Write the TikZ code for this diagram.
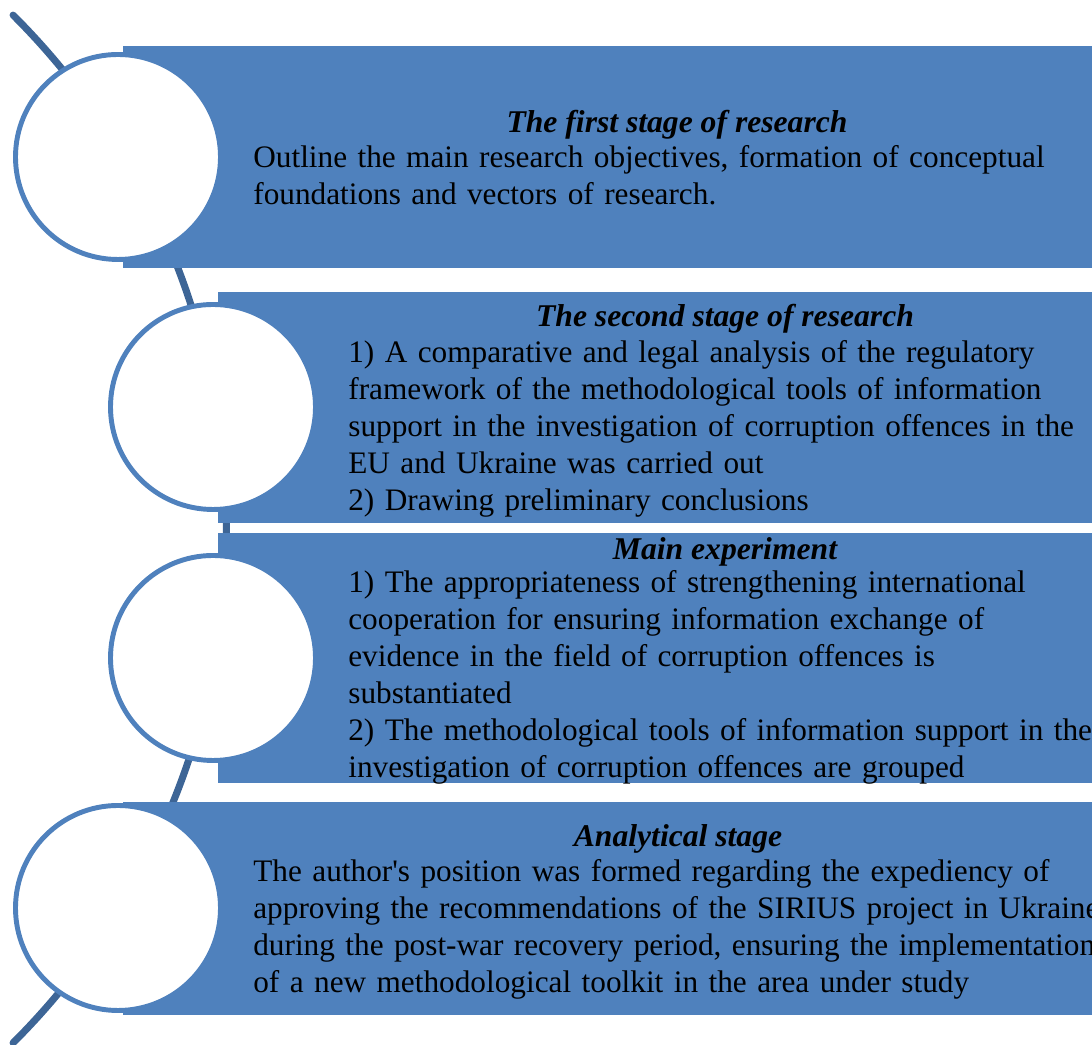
\documentclass[tikz,border=0pt]{standalone}
\usepackage{fontspec}
\setmainfont{Liberation Serif}
\usetikzlibrary{positioning}
\definecolor{barblue}{RGB}{79,129,189}
\definecolor{arcblue}{RGB}{61,101,150}
\tikzset{
  stagebar/.style={fill=barblue},
  stagedot/.style={circle, draw=barblue, line width=2.8pt, fill=white, minimum size=4.1cm, inner sep=0pt},
  stagehead/.style={font=\fontsize{18}{21}\selectfont\bfseries\itshape, inner sep=0pt, anchor=base},
  stagebody/.style={font=\fontsize{17.8}{21.05}\selectfont, inner sep=0pt, anchor=base west, align=left, text width=18.5cm},
}
\begin{document}
\begin{tikzpicture}
\useasboundingbox (0,0) rectangle (21.84,20.9);
\draw[arcblue, line width=4pt, line cap=round] (-9.98,10.32) ++(45.1:14.51) arc[start angle=45.1, end angle=-45.1, radius=14.51];
\fill[stagebar] (2.46,15.54) rectangle (21.84,19.98);
\fill[stagebar] (4.36,10.44) rectangle (21.84,15.06);
\fill[stagebar] (4.36,5.24) rectangle (21.84,10.24);
\fill[stagebar] (2.46,0.6) rectangle (21.84,4.86);
\node[stagedot] (c1) at (2.36,17.76) {};
\node[stagedot] (c2) at (4.26,12.76) {};
\node[stagedot] (c3) at (4.26,7.74) {};
\node[stagedot] (c4) at (2.36,2.74) {};
\node[stagehead] (h1) at (13.54,18.24) {The first stage of research};
\node[stagebody] (t1) at (5.06,17.54) {Outline the main research objectives, formation of conceptual\\foundations and vectors of research.};
\node[stagehead] (h2) at (14.5,14.36) {The second stage of research};
\node[stagebody] (t2) at (6.96,13.64) {1) A comparative and legal analysis of the regulatory\\framework of the methodological tools of information\\support in the investigation of corruption offences in the\\EU and Ukraine was carried out\\2) Drawing preliminary conclusions};
\node[stagehead] (h3) at (14.5,9.7) {Main experiment};
\node[stagebody] (t3) at (6.96,9.04) {1) The appropriateness of strengthening international\\cooperation for ensuring information exchange of\\evidence in the field of corruption offences is\\substantiated\\2) The methodological tools of information support in the\\investigation of corruption offences are grouped};
\node[stagehead] (h4) at (13.56,3.96) {Analytical stage};
\node[stagebody] (t4) at (5.06,3.26) {The author\textquotesingle s position was formed regarding the expediency of\\approving the recommendations of the SIRIUS project in Ukraine\\during the post-war recovery period, ensuring the implementation\\of a new methodological toolkit in the area under study};
\end{tikzpicture}
\end{document}
